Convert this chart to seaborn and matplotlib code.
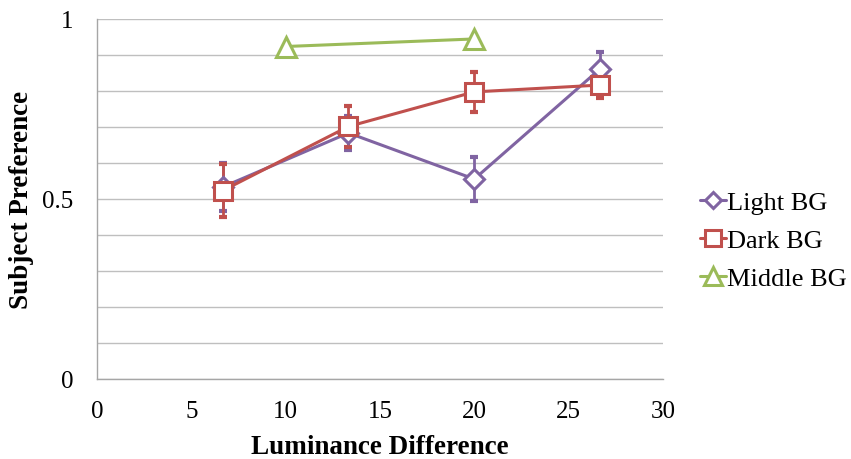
import matplotlib
matplotlib.use("Agg")
import matplotlib.pyplot as plt
import pandas as pd
import seaborn as sns

# data
series_names = ["Light BG", "Dark BG", "Middle BG"]

light_x = [6.67, 13.33, 20.0, 26.67]
light_y = [0.533, 0.683, 0.555, 0.861]
light_err = [0.066, 0.048, 0.061, 0.046]

dark_x = [6.67, 13.33, 20.0, 26.67]
dark_y = [0.523, 0.701, 0.797, 0.816]
dark_err = [0.074, 0.056, 0.055, 0.036]

middle_x = [10.0, 20.0]
middle_y = [0.923, 0.944]

colors = {"Light BG": "#8064A2", "Dark BG": "#C0504D", "Middle BG": "#9BBB59"}
markers = {"Light BG": "D", "Dark BG": "s", "Middle BG": "^"}
sizes = {"Light BG": 10, "Dark BG": 13, "Middle BG": 15}

sns.set_theme(style="white")
plt.rcParams["font.family"] = ["Liberation Serif", "DejaVu Serif"]
plt.rcParams["text.color"] = "black"
plt.rcParams["axes.labelcolor"] = "black"

fig = plt.figure(figsize=(8.51, 4.6), dpi=100)
ax = fig.add_axes([0.114, 0.174, 0.665, 0.783])

# error bars first so the white markers sit over them
for name, xs, ys, errs in [("Light BG", light_x, light_y, light_err),
                           ("Dark BG", dark_x, dark_y, dark_err)]:
    ax.errorbar(xs, ys, yerr=errs, fmt="none", ecolor=colors[name],
                elinewidth=2, capsize=3, capthick=3, zorder=2)

handles = []
for name, xs, ys in [("Light BG", light_x, light_y),
                     ("Dark BG", dark_x, dark_y),
                     ("Middle BG", middle_x, middle_y)]:
    df = pd.DataFrame({"x": xs, "y": ys})
    sns.lineplot(data=df, x="x", y="y", ax=ax, color=colors[name],
                 linewidth=2.2, marker=markers[name], markersize=sizes[name],
                 markerfacecolor="white", markeredgecolor=colors[name],
                 markeredgewidth=2.2, zorder=3)
    handles.append(ax.lines[-1])

ax.set_xlim(0, 30)
ax.set_ylim(0, 1)
ax.set_xticks([0, 5, 10, 15, 20, 25, 30])
ax.set_yticks([0, 0.5, 1])
ax.set_yticklabels(["0", "0.5", "1"])
ax.set_yticks([i / 10 for i in range(11)], minor=True)
ax.yaxis.grid(True, which="both", color="#BFBFBF", linewidth=1)
ax.xaxis.grid(False)
ax.set_axisbelow(True)

for side in ["top", "right"]:
    ax.spines[side].set_visible(False)
for side in ["left", "bottom"]:
    ax.spines[side].set_color("#A6A6A6")
    ax.spines[side].set_linewidth(1)

ax.tick_params(axis="both", which="major", direction="out", length=5,
               color="#A6A6A6", labelsize=18, labelcolor="black")
ax.tick_params(axis="y", which="minor", length=0)
ax.tick_params(axis="y", pad=12)
ax.tick_params(axis="x", pad=10)

ax.set_xlabel("Luminance Difference", fontsize=19.5, fontweight="bold", labelpad=9)
ax.set_ylabel("Subject Preference", fontsize=19.5, fontweight="bold", labelpad=6)

leg = fig.legend(handles, series_names, loc="center left",
                 bbox_to_anchor=(0.81, 0.475), frameon=False, fontsize=19,
                 handlelength=1.0, handletextpad=0.02, labelspacing=0.55,
                 borderaxespad=0, markerscale=0.85)

fig.savefig("out.png", dpi=100)
